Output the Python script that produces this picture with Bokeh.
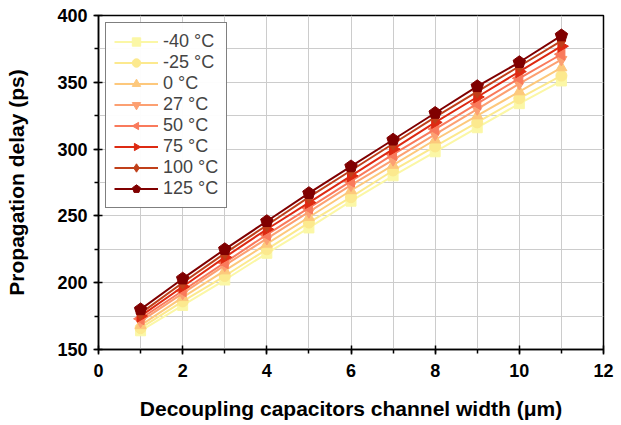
import numpy as np
from bokeh.plotting import figure
from bokeh.models import SingleIntervalTicker, Legend, LegendItem, Range1d
from bokeh.embed import file_html
from bokeh.resources import INLINE

widths = [1, 2, 3, 4, 5, 6, 7, 8, 9, 10, 11]
temps = ["-40 °C", "-25 °C", "0 °C", "27 °C", "50 °C", "75 °C", "100 °C", "125 °C"]
d_m40 = [164, 183, 202, 222, 241, 261, 280, 298, 316, 334, 351]
d_m25 = [166, 186, 205, 225, 245, 264, 284, 302, 320, 338, 355]
d_0 = [168, 189, 209, 229, 249, 269, 288, 307, 325, 343, 361]
d_27 = [171, 192, 213, 233, 253, 273, 292, 311, 330, 349, 367]
d_50 = [173, 194, 215, 236, 256, 276, 296, 315, 334, 353, 371]
d_75 = [175, 197, 219, 240, 260, 280, 300, 320, 339, 358, 377]
d_100 = [177, 200, 222, 243, 264, 284, 304, 324, 343, 362, 381]
d_125 = [180, 203, 225, 246, 267, 287, 307, 327, 347, 365, 385]
series = [d_m40, d_m25, d_0, d_27, d_50, d_75, d_100, d_125]

colors = ["#FBF7A6", "#FCE98E", "#FDC87C", "#FCA072", "#F97A5C", "#DD2A12", "#C0401A", "#800000"]
# (kind, marker/sides, size, angle)
styles = [("m", "square", 10, 0), ("m", "circle", 11, 0), ("m", "triangle", 11, 0),
          ("m", "inverted_triangle", 11, 0), ("n", 3, 7, np.pi / 2), ("n", 3, 7, -np.pi / 2),
          ("m", "diamond", 13, 0), ("n", 5, 6.5, 0)]

p = figure(width=621, height=425, output_backend="svg", toolbar_location=None,
           x_range=Range1d(0, 12), y_range=Range1d(150, 400),
           min_border_left=98, min_border_right=18, min_border_top=15, min_border_bottom=76)

items = []
for i, (t, d) in enumerate(zip(temps, series)):
    kind, mk, sz, ang = styles[i]
    r1 = p.line(widths, d, line_color=colors[i], line_width=2)
    if kind == "m":
        r2 = p.scatter(x=widths, y=d, marker=mk, size=sz,
                       fill_color=colors[i], line_color=colors[i])
    else:
        r2 = p.ngon(x=widths, y=d, radius=sz, radius_units="screen", n=mk, angle=ang,
                    fill_color=colors[i], line_color=colors[i])
    items.append(LegendItem(label=t, renderers=[r1, r2]))

legend = Legend(items=items, location="top_left")
legend.label_text_font = "Liberation Sans"
legend.label_text_font_size = "18px"
legend.border_line_color = "black"
legend.border_line_width = 1
legend.glyph_width = 44
legend.glyph_height = 21
legend.spacing = 0
legend.label_standoff = 5
legend.padding = 8
legend.margin = 7
legend.label_height = 21
p.add_layout(legend)

p.xaxis.ticker = SingleIntervalTicker(interval=2, num_minor_ticks=2)
p.yaxis.ticker = SingleIntervalTicker(interval=50, num_minor_ticks=2)
p.xgrid.ticker = SingleIntervalTicker(interval=1)
p.ygrid.ticker = SingleIntervalTicker(interval=25)
p.grid.grid_line_color = "#cccccc"
p.grid.grid_line_width = 1

for ax in (p.xaxis, p.yaxis):
    ax.axis_line_color = "black"
    ax.axis_line_width = 1.5
    ax.major_tick_line_width = 1.5
    ax.minor_tick_line_width = 1.5
    ax.major_tick_in = 4
    ax.major_tick_out = 5
    ax.minor_tick_in = 0
    ax.minor_tick_out = 4
    ax.major_label_text_font = "Liberation Sans"
    ax.major_label_text_font_style = "bold"
    ax.major_label_text_font_size = "18px"
    ax.major_label_text_color = "black"
    ax.axis_label_text_font = "Liberation Sans"
    ax.axis_label_text_font_style = "bold"
    ax.axis_label_text_font_size = "21px"
    ax.axis_label_text_color = "black"

p.xaxis.axis_label = "Decoupling capacitors channel width (μm)"
p.yaxis.axis_label = "Propagation delay (ps)"
p.xaxis.major_label_standoff = 9
p.yaxis.major_label_standoff = 6
p.xaxis.axis_label_standoff = 17
p.yaxis.axis_label_standoff = 26

p.outline_line_color = "black"
p.outline_line_width = 1.5
p.outline_line_alpha = 1

open("out.html", "w").write(file_html(p, INLINE))
